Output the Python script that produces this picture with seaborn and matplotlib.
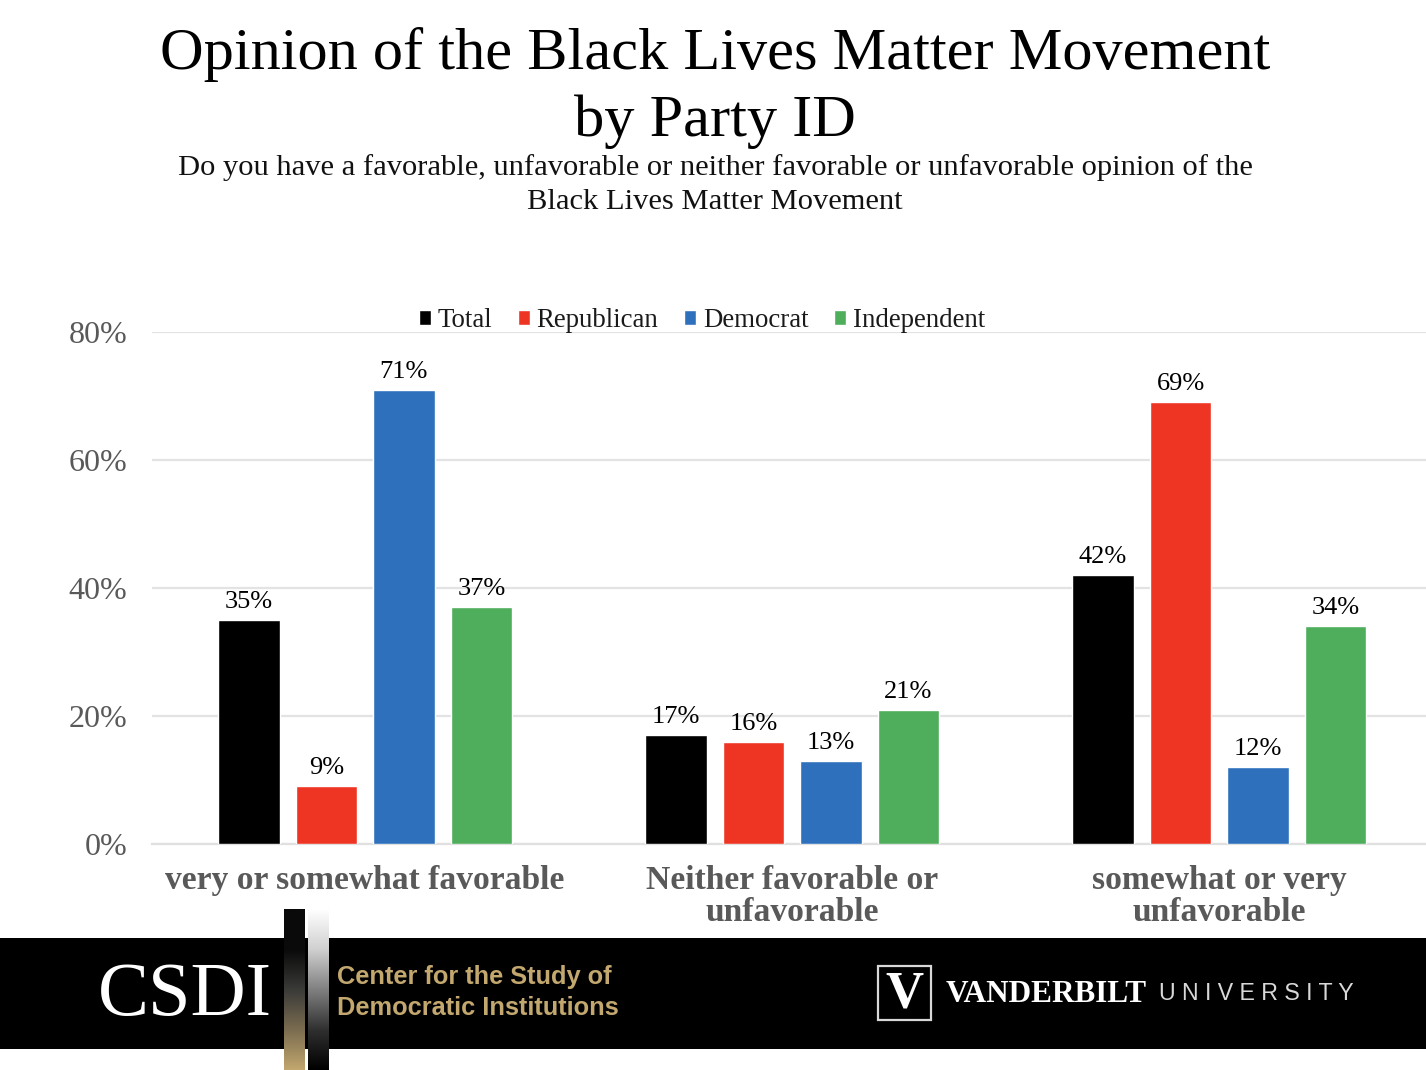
import numpy as np
import pandas as pd
import matplotlib
matplotlib.use("Agg")
import matplotlib.pyplot as plt
from matplotlib.colors import LinearSegmentedColormap
from matplotlib.patches import Rectangle
import seaborn as sns

categories = ["very or somewhat favorable", "Neither favorable or\nunfavorable", "somewhat or very\nunfavorable"]
series = ["Total", "Republican", "Democrat", "Independent"]
total = [35, 17, 42]
republican = [9, 16, 69]
democrat = [71, 13, 12]
independent = [37, 21, 34]
colors = ["#000000", "#EE3524", "#2E70BC", "#4EAE5C"]
yticks = [0, 20, 40, 60, 80]

sns.set_theme(style="white")
plt.rcParams["font.family"] = ["Liberation Serif", "DejaVu Serif"]

W, H = 1426, 1070
fig = plt.figure(figsize=(W / 100, H / 100), dpi=100, facecolor="white")
ax = fig.add_axes([152 / W, 1 - 844 / H, (W - 152) / W, (844 - 332) / H])

rows = []
for name, vals in zip(series, [total, republican, democrat, independent]):
    for c, v in zip(categories, vals):
        rows.append({"category": c, "party": name, "value": v})
df = pd.DataFrame(rows)

sns.barplot(data=df, x="category", y="value", hue="party", order=categories, hue_order=series,
            palette=colors, width=0.726, gap=0.205, saturation=1, errorbar=None, ax=ax, zorder=3)

ax.set_xlim(-0.499, 2.484)
ax.set_ylim(0, 80)
ax.set_yticks(yticks)
ax.set_yticklabels([f"{t}%" for t in yticks], fontsize=23, color="#595959")
ax.tick_params(axis="y", length=0, pad=18)
ax.tick_params(axis="x", length=0, pad=15)
ax.set_xticks(range(3))
ax.set_xticklabels(categories, fontsize=24.2, color="#595959", fontweight="bold", linespacing=1.03)
ax.set_xlabel("")
ax.set_ylabel("")
ax.grid(axis="y", color="#E3E3E3", lw=1.6, zorder=0)
ax.set_axisbelow(True)
for s in ["top", "right", "left"]:
    ax.spines[s].set_visible(False)
ax.spines["bottom"].set_color("#E0E0E0")
ax.spines["bottom"].set_linewidth(1.6)

for cont in ax.containers:
    ax.bar_label(cont, fmt="%g%%", fontsize=19, color="black", padding=5)

handles, labels = ax.get_legend_handles_labels()
ax.legend(handles, labels, ncol=4, frameon=False, loc="center", fontsize=19.4,
          bbox_to_anchor=((702 - 152) / (W - 152), 1.0225), handlelength=0.45, handleheight=0.45,
          handletextpad=0.25, columnspacing=0.95, borderpad=0, labelcolor="#1a1a1a")

fig.text(715 / W, 1 - 54 / H, "Opinion of the Black Lives Matter Movement", ha="center", va="center",
         fontsize=43.5, color="black")
fig.text(715 / W, 1 - 122 / H, "by Party ID", ha="center", va="center", fontsize=43.5, color="black")
fig.text(715 / W, 1 - 168 / H, "Do you have a favorable, unfavorable or neither favorable or unfavorable opinion of the",
         ha="center", va="center", fontsize=21.95, color="#111111")
fig.text(715 / W, 1 - 202 / H, "Black Lives Matter Movement", ha="center", va="center", fontsize=21.95, color="#111111")

# footer band
bg = fig.add_axes([0, 0, 1, 1], zorder=5)
bg.set_xlim(0, W)
bg.set_ylim(H, 0)
bg.axis("off")
bg.patch.set_alpha(0)
bg.add_patch(Rectangle((0, 938), W, 111, color="black", lw=0))
gold = LinearSegmentedColormap.from_list("g", ["#0a0a0a", "#0a0a0a", "#3a3a38", "#7a6c50", "#C2A76E"])
gray = LinearSegmentedColormap.from_list("s", ["#ffffff", "#d0d0d0", "#808080", "#303030", "#000000"])
grad = np.linspace(0, 1, 256).reshape(-1, 1)
bg.imshow(grad, cmap=gold, extent=(284, 305, 1070, 909), aspect="auto", zorder=2)
bg.imshow(grad, cmap=gray, extent=(308, 329, 1070, 909), aspect="auto", zorder=2)
bg.set_xlim(0, W)
bg.set_ylim(H, 0)

bg.text(185, 996, "CSDI", color="white", fontsize=55, ha="center", va="center", fontfamily="Liberation Serif")
tan = "#C2A76E"
bg.text(337, 977, "Center for the Study of", color=tan, fontsize=18.3, fontweight="bold", ha="left", va="center",
        fontfamily="Liberation Sans")
bg.text(337, 1008, "Democratic Institutions", color=tan, fontsize=18.3, fontweight="bold", ha="left", va="center",
        fontfamily="Liberation Sans")

bg.add_patch(Rectangle((878, 966), 53, 54, fill=False, ec="#D8D8D8", lw=1.6))
bg.text(904.5, 994, "V", color="white", fontsize=38, fontweight="bold", ha="center", va="center",
        fontfamily="Liberation Serif")
bg.text(946, 995, "VANDERBILT", color="white", fontsize=22.5, ha="left", va="center", fontfamily="Liberation Serif",
        fontweight="bold")
bg.text(1159, 994, "U N I V E R S I T Y", color="#D8D8D8", fontsize=16.7, ha="left", va="center",
        fontfamily="Liberation Sans")

fig.savefig("out.png", dpi=100, facecolor="white")
